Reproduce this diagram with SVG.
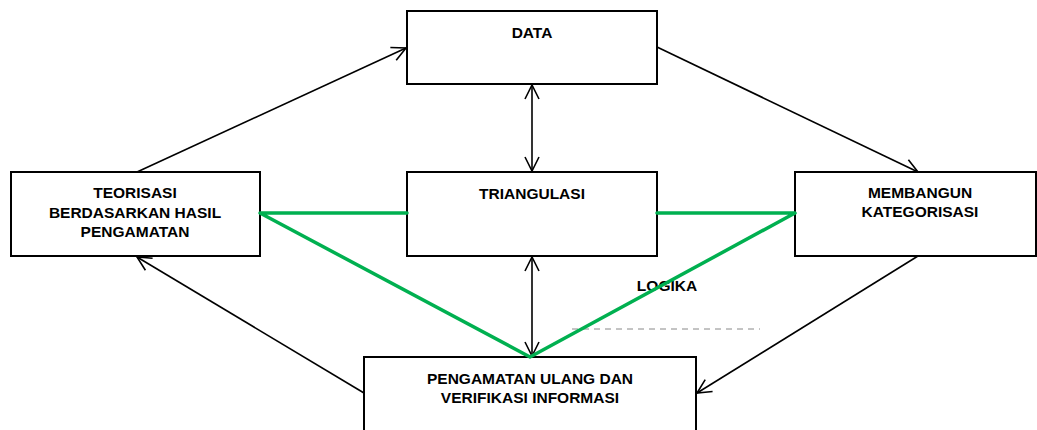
<svg xmlns="http://www.w3.org/2000/svg" width="1037" height="430" viewBox="0 0 1037 430">
<style>
.box{fill:#fff;stroke:#000;stroke-width:2}
.t{font-family:"Liberation Sans",Arial,sans-serif;font-weight:bold;font-size:15.5px;fill:#000;text-anchor:middle}
.arr{fill:none;stroke:#000;stroke-width:1.6}
.g{fill:none;stroke:#00b050;stroke-width:3.5;stroke-linecap:round;stroke-linejoin:round}
</style>
<defs>
<marker id="ah" viewBox="0 0 16 16" refX="15" refY="8" markerWidth="16" markerHeight="16" markerUnits="userSpaceOnUse" orient="auto-start-reverse">
<path d="M1,1 L15,8 L1,15" fill="none" stroke="#000" stroke-width="1.6"/>
</marker>
</defs>
<g id="connectors">
<line class="arr" x1="137" y1="172" x2="406" y2="48" marker-end="url(#ah)"/>
<line class="arr" x1="657" y1="47" x2="918" y2="172" marker-end="url(#ah)"/>
<line class="arr" x1="918" y1="256" x2="697" y2="393" marker-end="url(#ah)"/>
<line class="arr" x1="364" y1="393" x2="137" y2="257" marker-end="url(#ah)"/>
<line class="arr" x1="532" y1="85" x2="532" y2="171" marker-start="url(#ah)" marker-end="url(#ah)"/>
<line class="arr" x1="532" y1="257" x2="532" y2="356" marker-start="url(#ah)" marker-end="url(#ah)"/>
<line x1="572" y1="329" x2="760" y2="329" stroke="#888" stroke-width="1" stroke-dasharray="6,5"/>
</g>
<g id="n-data"><rect class="box" x="407" y="11" width="250" height="73"/><text class="t" x="532" y="38">DATA</text></g>
<g id="n-teori"><rect class="box" x="11" y="172" width="249" height="84"/>
<text class="t" x="135" y="198">TEORISASI</text><text class="t" x="135" y="217.5">BERDASARKAN HASIL</text><text class="t" x="135" y="237">PENGAMATAN</text></g>
<g id="n-tri"><rect class="box" x="407" y="172" width="250" height="84"/><text class="t" x="532" y="199">TRIANGULASI</text></g>
<g id="n-memb"><rect class="box" x="795" y="172" width="241" height="84"/>
<text class="t" x="920" y="198">MEMBANGUN</text><text class="t" x="920" y="217">KATEGORISASI</text></g>
<g id="n-peng"><rect class="box" x="364" y="357" width="332" height="80"/>
<text class="t" x="530" y="384">PENGAMATAN ULANG DAN</text><text class="t" x="530" y="403">VERIFIKASI INFORMASI</text></g>
<text class="t" x="667" y="291">LOGIKA</text>
<g id="logika-lines">
<polyline class="g" points="407,213 260,213 530,357 795,213 657,213"/>
</g>
</svg>
